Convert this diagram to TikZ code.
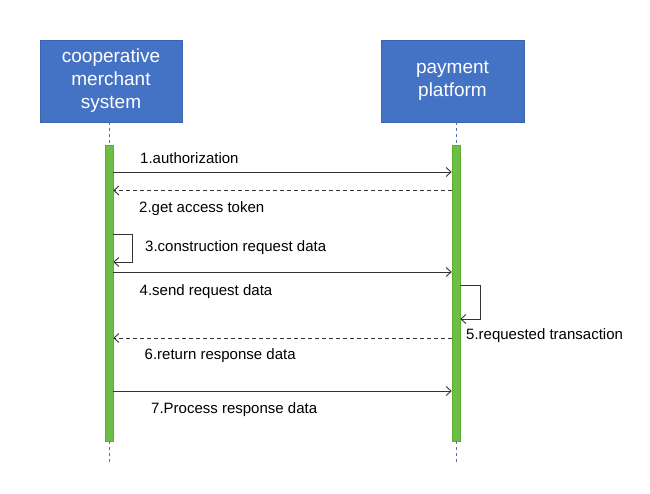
\documentclass[tikz,border=0pt]{standalone}
\usepackage{fontspec}
\setmainfont{Liberation Sans}
\usetikzlibrary{arrows.meta}
\definecolor{boxblue}{HTML}{4472C4}
\definecolor{boxedge}{HTML}{3A63B0}
\definecolor{bargreen}{HTML}{6DBE45}
\definecolor{bargedge}{HTML}{5AAE34}
\definecolor{lifeblue}{HTML}{5B6FA8}
\definecolor{msgcol}{HTML}{333333}
\tikzset{
  actor/.style={draw=boxedge, fill=boxblue, line width=0.6pt, minimum height=82pt,
    text=white, align=center, font=\fontsize{19}{23}\selectfont, inner sep=0pt},
  actbar/.style={draw=bargedge, fill=bargreen, line width=0.5pt, minimum width=8pt,
    minimum height=296pt, inner sep=0pt},
  lifeline/.style={draw=lifeblue, dashed, dash pattern=on 3pt off 3pt, line width=0.8pt},
  msg/.style={draw=msgcol, line width=0.9pt, -{Straight Barb[length=5pt,width=9pt,line width=0.9pt]}},
  reply/.style={msg, dashed, dash pattern=on 4pt off 3pt},
  lbl/.style={anchor=base west, inner sep=0pt, font=\fontsize{15}{18}\selectfont, text=black},
}
\begin{document}
\begin{tikzpicture}[x=1pt,y=-1pt]
\useasboundingbox (0,0) rectangle (650,493);
\node[actor, minimum width=142pt] (merchant) at (111,81) {cooperative\\merchant\\system};
\node[actor, minimum width=143pt] (platform) at (452.5,81) {payment\\platform};
\node[actbar] (barL) at (109,293) {};
\node[actbar] (barR) at (456,293) {};
\coordinate (endL) at (109,462);
\coordinate (endR) at (456,462);
\draw[lifeline] (merchant.south -| barL) -- (barL.north);
\draw[lifeline] (platform.south -| barR) -- (barR.north);
\draw[lifeline] (barL.south) -- (endL);
\draw[lifeline] (barR.south) -- (endR);
% y levels
\coordinate (y1) at (0,172);
\coordinate (y2) at (0,190.5);
\coordinate (y3a) at (0,234);
\coordinate (y3b) at (0,262);
\coordinate (y4) at (0,272);
\coordinate (y5a) at (0,285);
\coordinate (y5b) at (0,319);
\coordinate (y6) at (0,338);
\coordinate (y7) at (0,391);
\coordinate (loopL) at (132,0);
\coordinate (loopR) at (480,0);
% messages
\draw[msg] (barL.east |- y1) -- (barR.west |- y1);
\draw[reply] (barR.west |- y2) -- (barL.east |- y2);
\draw[msg] (barL.east |- y3a) -- (loopL |- y3a) -- (loopL |- y3b) -- (barL.east |- y3b);
\draw[msg] (barL.east |- y4) -- (barR.west |- y4);
\draw[msg] (barR.east |- y5a) -- (loopR |- y5a) -- (loopR |- y5b) -- (barR.east |- y5b);
\draw[reply] (barR.west |- y6) -- (barL.east |- y6);
\draw[msg] (barL.east |- y7) -- (barR.west |- y7);
% labels
\node[lbl] (l1) at (140,163) {1.authorization};
\node[lbl] (l2) at (139,212) {2.get access token};
\node[lbl] (l3) at (145,251) {3.construction request data};
\node[lbl] (l4) at (139.5,295) {4.send request data};
\node[lbl] (l5) at (466,339) {5.requested transaction};
\node[lbl] (l6) at (144.5,359) {6.return response data};
\node[lbl] (l7) at (151,413) {7.Process response data};
\end{tikzpicture}
\end{document}
